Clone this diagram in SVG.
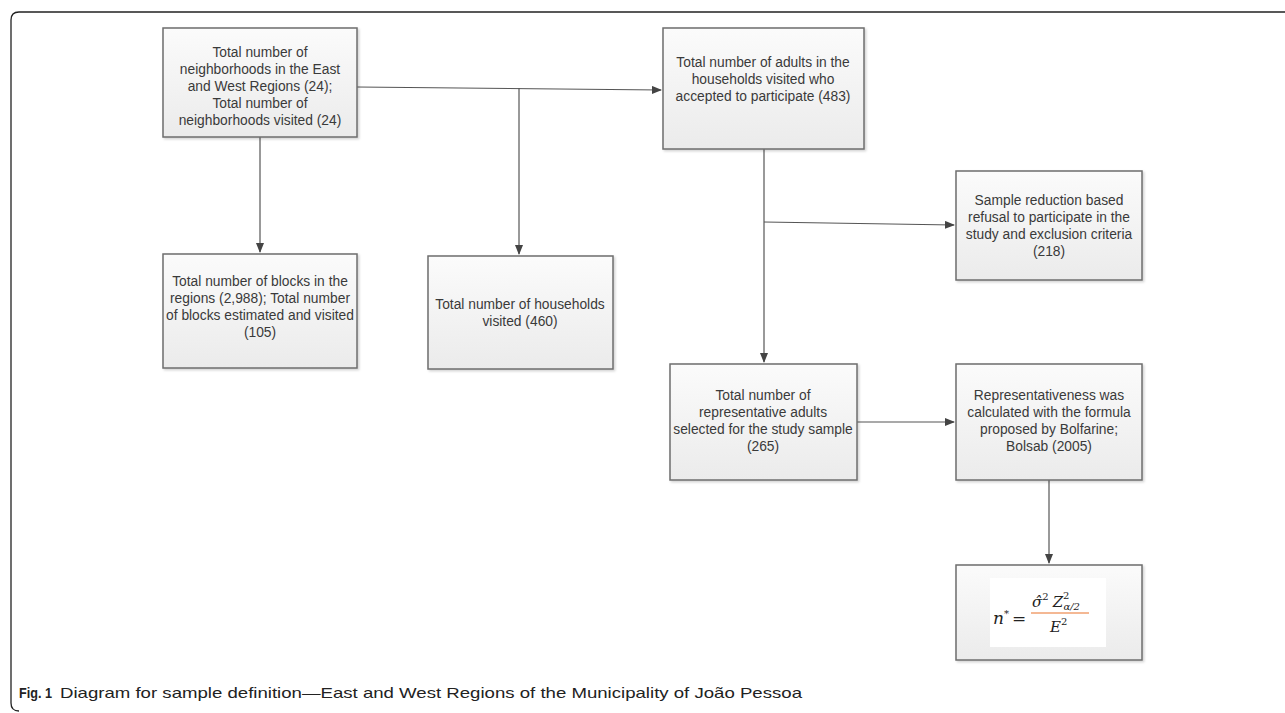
<svg xmlns="http://www.w3.org/2000/svg" width="1285" height="713" viewBox="0 0 1285 713">
<style>
.box{fill:url(#g);stroke:#6e6e6e;stroke-width:1.5}
.t{font-family:"Liberation Sans",Arial,sans-serif;font-size:13.8px;fill:#3a3a3a;text-anchor:middle}
.c{fill:none;stroke:#555;stroke-width:1.2}
.m{font-family:"DejaVu Serif","Liberation Serif",serif;font-style:italic;fill:#222}
</style>
<defs>
<linearGradient id="g" x1="0" y1="0" x2="0" y2="1">
<stop offset="0" stop-color="#fbfbfb"/>
<stop offset="1" stop-color="#ebebeb"/>
</linearGradient>
<filter id="sh" x="-5%" y="-5%" width="115%" height="115%">
<feDropShadow dx="1.5" dy="1.5" stdDeviation="1" flood-color="#000" flood-opacity="0.18"/>
</filter>
<marker id="a" markerWidth="10" markerHeight="8" refX="9" refY="4" orient="auto" markerUnits="userSpaceOnUse">
<path d="M0,0 L10,4 L0,8 Z" fill="#444"/>
</marker>
</defs>
<rect width="1285" height="713" fill="#fff"/>
<path d="M1285,12 H19 Q11,12 11,20 V703 Q11,711 19,711" fill="none" stroke="#222" stroke-width="1.3"/>

<g id="connectors">
<path class="c" d="M357,87 L661,90" marker-end="url(#a)"/>
<path class="c" d="M260,137 V252" marker-end="url(#a)"/>
<path class="c" d="M519,88 V254" marker-end="url(#a)"/>
<path class="c" d="M764,149 V362" marker-end="url(#a)"/>
<path class="c" d="M764,222 L954,225" marker-end="url(#a)"/>
<path class="c" d="M857,422 H954" marker-end="url(#a)"/>
<path class="c" d="M1049,480 V563" marker-end="url(#a)"/>
</g>

<g id="n1">
<rect class="box" x="163" y="28" width="194" height="109" filter="url(#sh)"/>
<text class="t" x="260" y="57">Total number of</text>
<text class="t" x="260" y="74">neighborhoods in the East</text>
<text class="t" x="260" y="91">and West Regions (24);</text>
<text class="t" x="260" y="108">Total number of</text>
<text class="t" x="260" y="125">neighborhoods visited (24)</text>
</g>

<g id="n2">
<rect class="box" x="663" y="28" width="201" height="121" filter="url(#sh)"/>
<text class="t" x="763" y="67">Total number of adults in the</text>
<text class="t" x="763" y="84">households visited who</text>
<text class="t" x="763" y="101">accepted to participate (483)</text>
</g>

<g id="n3">
<rect class="box" x="163" y="254" width="194" height="114" filter="url(#sh)"/>
<text class="t" x="260" y="286">Total number of blocks in the</text>
<text class="t" x="260" y="303">regions (2,988); Total number</text>
<text class="t" x="260" y="320">of blocks estimated and visited</text>
<text class="t" x="260" y="337">(105)</text>
</g>

<g id="n4">
<rect class="box" x="428" y="256" width="185" height="113" filter="url(#sh)"/>
<text class="t" x="520" y="309">Total number of households</text>
<text class="t" x="520" y="326">visited (460)</text>
</g>

<g id="n5">
<rect class="box" x="956" y="171" width="186" height="109" filter="url(#sh)"/>
<text class="t" x="1049" y="205">Sample reduction based</text>
<text class="t" x="1049" y="222">refusal to participate in the</text>
<text class="t" x="1049" y="239">study and exclusion criteria</text>
<text class="t" x="1049" y="256">(218)</text>
</g>

<g id="n6">
<rect class="box" x="670" y="364" width="187" height="116" filter="url(#sh)"/>
<text class="t" x="763" y="400">Total number of</text>
<text class="t" x="763" y="417">representative adults</text>
<text class="t" x="763" y="434">selected for the study sample</text>
<text class="t" x="763" y="451">(265)</text>
</g>

<g id="n7">
<rect class="box" x="956" y="364" width="186" height="116" filter="url(#sh)"/>
<text class="t" x="1049" y="400">Representativeness was</text>
<text class="t" x="1049" y="417">calculated with the formula</text>
<text class="t" x="1049" y="434">proposed by Bolfarine;</text>
<text class="t" x="1049" y="451">Bolsab (2005)</text>
</g>

<g id="n8">
<rect class="box" x="956" y="565" width="186" height="95" filter="url(#sh)"/>
<rect x="990" y="578" width="116" height="69" fill="#fff"/>
<text class="m" x="993" y="624" font-size="17">n<tspan font-size="10" dy="-7" font-style="normal">*</tspan><tspan dy="7" font-style="normal" dx="3">=</tspan></text>
<text class="m" x="1032" y="607" font-size="15">σ̂<tspan font-size="10" dy="-7" font-style="normal">2</tspan><tspan dy="7" dx="4">Z</tspan><tspan font-size="10" dy="-8" font-style="normal">2</tspan><tspan font-size="10" dy="11" dx="-6">α/2</tspan></text>
<line x1="1031" y1="613" x2="1089" y2="613" stroke="#f0a070" stroke-width="1.3"/>
<text class="m" x="1050" y="632" font-size="15">E<tspan font-size="10" dy="-7" font-style="normal">2</tspan></text>
</g>

<g id="caption">
<text x="19" y="698" font-family="'Liberation Sans',Arial,sans-serif" font-size="15" fill="#222"><tspan font-weight="bold" textLength="33" lengthAdjust="spacingAndGlyphs">Fig. 1</tspan><tspan x="60" textLength="742" lengthAdjust="spacingAndGlyphs">Diagram for sample definition—East and West Regions of the Municipality of João Pessoa</tspan></text>
</g>
</svg>
